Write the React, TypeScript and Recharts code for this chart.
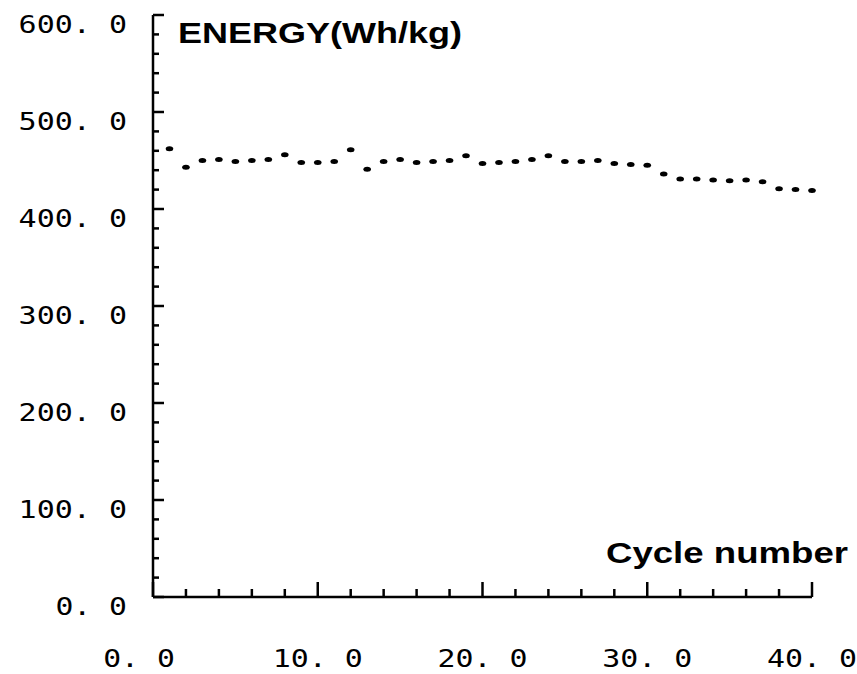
import { ScatterChart, Scatter, XAxis, YAxis } from "recharts";

const cycles = [
  1, 2, 3, 4, 5, 6, 7, 8, 9, 10, 11, 12, 13, 14, 15, 16, 17, 18, 19, 20,
  21, 22, 23, 24, 25, 26, 27, 28, 29, 30, 31, 32, 33, 34, 35, 36, 37, 38, 39, 40,
];
const energy = [
  462, 443, 450, 451, 449, 450, 451, 456, 448, 448, 449, 461, 441, 449, 451, 448, 449, 450, 455, 447,
  448, 449, 451, 455, 449, 449, 450, 447, 446, 445, 436, 431, 431, 430, 429, 430, 428, 421, 420, 419,
];

const xTicks = [0, 2, 4, 6, 8, 10, 12, 14, 16, 18, 20, 22, 24, 26, 28, 30, 32, 34, 36, 38, 40];
const xLabelValues = [0, 10, 20, 30, 40];
const xLabels = ["0. 0", "10. 0", "20. 0", "30. 0", "40. 0"];

const yTicks = [
  0, 20, 40, 60, 80, 100, 120, 140, 160, 180, 200, 220, 240, 260, 280, 300,
  320, 340, 360, 380, 400, 420, 440, 460, 480, 500, 520, 540, 560, 580, 600,
];
const yLabelValues = [0, 100, 200, 300, 400, 500, 600];
const yLabels = ["0. 0", "100. 0", "200. 0", "300. 0", "400. 0", "500. 0", "600. 0"];

const data = cycles.map((c, i) => ({ cycle: c, energy: energy[i] }));

const monoFont = "'DejaVu Sans Mono', monospace";
const boldFont = "'Liberation Sans', Arial, sans-serif";

// the plotter font is wide: stretch the mono glyphs to ~18.4px per character
const labelLength = (s: string) => s.length * 18.4 - 2;

function XTick({ x, y, payload }: any) {
  const idx = xLabelValues.indexOf(payload.value);
  const major = idx >= 0;
  return (
    <g>
      <line x1={x} x2={x} y1={y} y2={y - (major ? 15 : 8)} stroke="#000" strokeWidth={2.5} />
      {major && (
        <text
          x={x + (payload.value === 0 ? -14 : 0)}
          y={y + 70}
          textAnchor="middle"
          fontFamily={monoFont}
          fontSize={24}
          textLength={labelLength(xLabels[idx])}
          lengthAdjust="spacingAndGlyphs"
          fill="#000"
        >
          {xLabels[idx]}
        </text>
      )}
    </g>
  );
}

function YTick({ x, y, payload }: any) {
  const idx = yLabelValues.indexOf(payload.value);
  const major = idx >= 0;
  return (
    <g>
      <line x1={x} x2={x + (major ? 11 : 6)} y1={y} y2={y} stroke="#000" strokeWidth={2.5} />
      {major && (
        <text
          x={x - 26}
          y={y + 18}
          textAnchor="end"
          fontFamily={monoFont}
          fontSize={24}
          textLength={labelLength(yLabels[idx])}
          lengthAdjust="spacingAndGlyphs"
          fill="#000"
        >
          {yLabels[idx]}
        </text>
      )}
    </g>
  );
}

function Dot({ cx, cy }: any) {
  return <ellipse cx={cx} cy={cy} rx={3.8} ry={2.5} fill="#000" />;
}

export default function App() {
  return (
    <div style={{ position: "fixed", left: 0, top: 0, width: 857, height: 674, background: "#fff" }}>
      <ScatterChart width={857} height={674} margin={{ top: 15, right: 45, bottom: 0, left: 0 }}>
        <XAxis
          type="number"
          dataKey="cycle"
          domain={[0, 40]}
          ticks={xTicks}
          interval={0}
          height={77}
          tickSize={0}
          tickMargin={0}
          tickLine={false}
          axisLine={{ stroke: "#000", strokeWidth: 2.5 }}
          tick={<XTick />}
        />
        <YAxis
          type="number"
          dataKey="energy"
          domain={[0, 600]}
          ticks={yTicks}
          interval={0}
          width={153}
          tickSize={0}
          tickMargin={0}
          tickLine={false}
          axisLine={{ stroke: "#000", strokeWidth: 2.5 }}
          tick={<YTick />}
        />
        <Scatter data={data} fill="#000" shape={<Dot />} isAnimationActive={false} />
      </ScatterChart>
      <svg
        width={857}
        height={674}
        style={{ position: "absolute", left: 0, top: 0, pointerEvents: "none" }}
      >
        <text
          x={178}
          y={43}
          fontFamily={boldFont}
          fontWeight="bold"
          fontSize={29}
          textLength={284}
          lengthAdjust="spacingAndGlyphs"
          fill="#000"
        >
          ENERGY(Wh/kg)
        </text>
        <text
          x={606}
          y={563}
          fontFamily={boldFont}
          fontWeight="bold"
          fontSize={29}
          textLength={242}
          lengthAdjust="spacingAndGlyphs"
          fill="#000"
        >
          Cycle number
        </text>
      </svg>
    </div>
  );
}
